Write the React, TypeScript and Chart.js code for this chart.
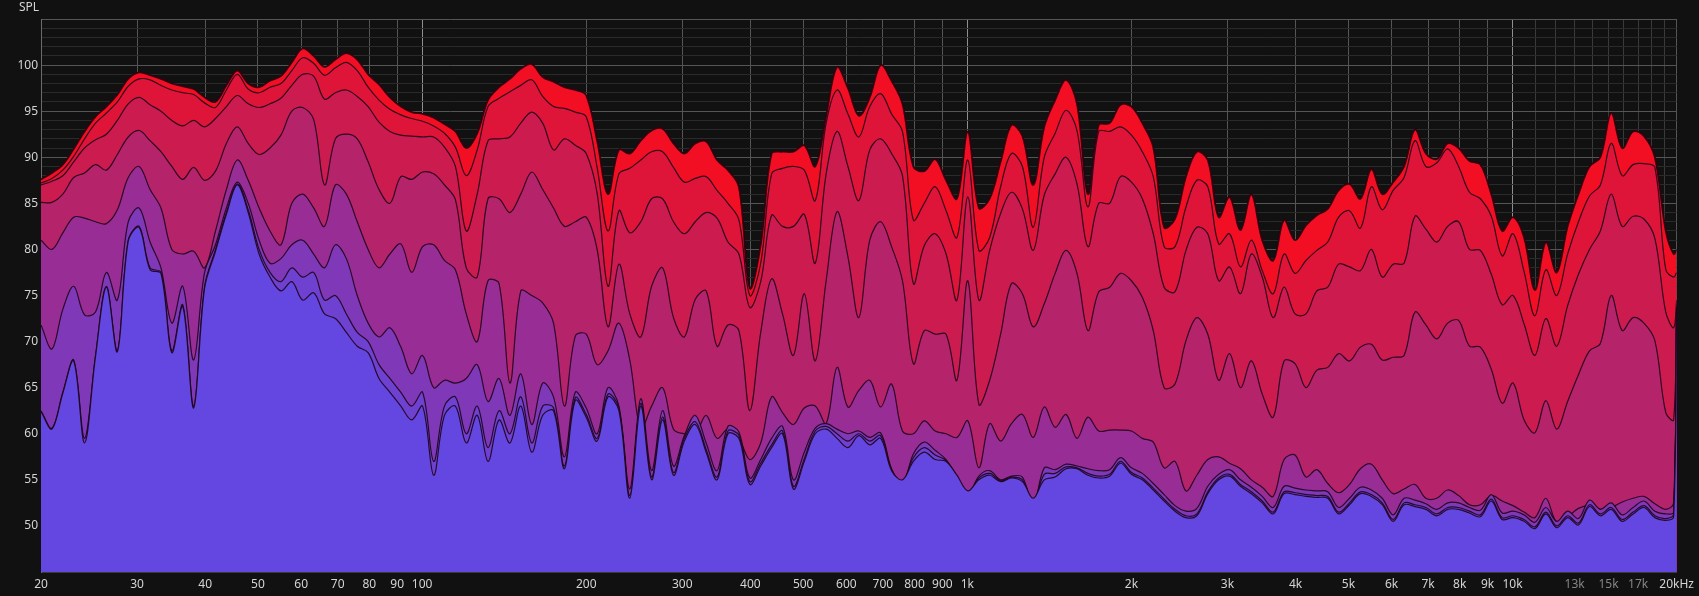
import { useEffect, useRef } from 'react';
import { Chart, registerables } from 'chart.js';

Chart.register(...registerables);

// Frequency axis samples (Hz)
const frequencies = [
  20, 20.94, 21.93, 22.96, 24.04, 25.18, 26.36, 27.61, 28.91, 30.27,
  31.7, 33.19, 34.75, 36.39, 38.11, 39.91, 41.79, 43.76, 45.82, 47.98,
  50.24, 52.61, 55.09, 57.68, 60.4, 63.25, 66.23, 69.35, 72.62, 76.04,
  79.62, 83.37, 87.3, 91.42, 95.72, 100.2, 105, 109.9, 115.1, 120.5,
  126.2, 132.1, 138.4, 144.9, 151.7, 158.9, 166.4, 174.2, 182.4, 191,
  200, 209.4, 219.3, 229.6, 240.4, 251.8, 263.6, 276.1, 289.1, 302.7,
  317, 331.9, 347.5, 363.9, 381.1, 399.1, 417.9, 437.6, 458.2, 479.8,
  502.4, 526.1, 550.9, 576.8, 604, 632.5, 662.3, 693.5, 726.2, 760.4,
  796.2, 833.7, 873, 914.2, 957.2, 1002, 1050, 1099, 1151, 1205,
  1262, 1321, 1384, 1449, 1517, 1589, 1664, 1742, 1824, 1910,
  2000, 2094, 2193, 2296, 2404, 2518, 2636, 2761, 2891, 3027,
  3170, 3319, 3475, 3639, 3811, 3991, 4179, 4376, 4582, 4798,
  5024, 5261, 5509, 5768, 6040, 6325, 6623, 6935, 7262, 7604,
  7962, 8337, 8730, 9142, 9572, 10020, 10500, 10990, 11510, 12050,
  12620, 13210, 13840, 14490, 15170, 15890, 16640, 17420, 18240, 19100,
  19750, 20000,
];

// Waterfall slices, first (loudest, red) to last (blue)
const slice1 = [
  87.6, 88.3, 89.2, 90.9, 92.8, 94.4, 95.5, 96.8, 98.5, 99.2,
  98.9, 98.5, 98.0, 97.7, 97.4, 96.5, 96.0, 97.8, 99.4,
  98.0, 97.6, 98.3, 98.8, 100.3, 101.8, 101.0, 99.8, 100.6, 101.3, 100.6, 99.0, 97.9, 96.5, 95.5, 94.9, 94.7, 94.3, 93.6,
  92.8, 91.0, 92.6, 96.2, 97.6, 98.5, 99.6, 100.1, 98.7, 98.2, 97.6, 97.3, 96.7, 91.8, 86.0, 90.8, 90.4, 91.8, 92.9, 93.1, 91.5, 90.4, 91.5, 91.7, 89.7, 88.6, 86.8, 75.8, 80.5, 90.4, 90.6, 90.6,
  91.3, 89.0, 94.5, 99.8, 97.5, 94.5, 96.5, 100.0, 98.3, 95.8, 89.0, 88.5, 89.8, 87.5, 85.5, 92.8, 84.5, 85.5, 89.5, 93.5, 92.3, 87.0, 93.3, 96.2, 98.4, 95.8,
  86.0, 93.5, 93.7, 95.7, 95.5, 93.7, 91.1, 82.4, 83.3, 87.9, 90.6, 89.7, 83.5, 85.7, 82.1, 86.0, 81.0, 78.8, 83.2, 81.0, 82.6, 83.7, 84.4, 86.4, 87.1, 85.5, 88.7,
  86.0, 87.3, 89.0, 93.0, 90.4, 89.8, 91.5, 91.0, 89.6, 89.2, 86.0, 82.0, 83.5, 81.3, 75.6,
  80.8, 77.5, 82.5, 86.0, 89.0, 90.0, 94.8, 91.0, 92.8, 92.3, 90.0, 82.0,
  79.5, 80.0,
];
const slice2 = [
  87.2, 87.7, 88.6, 90.1, 92.0, 93.7, 94.8, 96.0, 97.7, 98.5,
  98.4, 97.8, 97.3, 97.0, 96.8, 95.9, 95.4, 97.3, 99.0,
  97.4, 97.0, 97.6, 98.0, 99.4, 100.8, 100.2, 98.9, 99.7, 100.3, 99.4, 97.6, 96.2, 95.2, 94.6, 94.2, 93.9, 93.4, 92.6,
  91.1, 88.0, 90.8, 95.5, 96.4, 97.1, 97.8, 98.4, 96.6, 95.5, 95.3, 94.9, 94.4, 88.9, 82.0, 88.2, 88.8, 89.7, 90.6, 90.6, 88.9, 87.3, 87.7, 87.9, 86.4, 85.0, 83.2, 75.0, 78.5, 88.2, 88.8, 89.0,
  88.6, 85.3, 93.7, 97.3, 94.7, 92.2, 95.5, 96.9, 94.7, 92.8, 83.2, 85.0, 86.8, 84.2, 81.3, 89.7, 79.9, 81.3, 86.8, 90.4, 89.0, 82.4, 90.0, 92.6, 95.1, 92.9,
  84.6, 92.8, 92.8, 93.3, 92.4, 90.6, 87.9, 80.3, 80.3, 84.6, 87.5, 86.8, 80.6, 81.7, 78.1, 81.0, 77.7, 75.2, 79.5, 77.4, 78.8, 79.9, 80.8, 83.5, 84.2, 82.3, 86.8,
  84.3, 86.4, 87.8, 91.8, 89.0, 89.4, 90.9, 89.0, 86.2, 85.5, 83.6, 79.3, 81.7, 77.6, 72.8,
  77.8, 75.0, 79.5, 83.0, 85.8, 87.0, 91.5, 88.0, 89.2, 89.3, 88.9, 77.8,
  77.0, 77.5,
];
const slice3 = [
  87.0, 87.4, 88.0, 89.5, 91.0, 91.9, 92.5, 94.0, 95.8, 96.5,
  95.7, 95.0, 94.0, 93.4, 94.0, 93.3, 94.2, 95.5, 96.7,
  95.8, 95.4, 95.8, 96.4, 97.8, 99.0, 98.8, 96.3, 97.0, 97.3, 96.6, 95.5, 93.8, 92.8, 92.4, 92.3, 92.2, 92.2, 91.1,
  89.0, 82.0, 86.0, 91.8, 92.0, 92.2, 93.7, 94.9, 93.7, 90.8, 92.0, 91.3, 90.4, 86.1, 76.0, 84.2, 81.8, 83.0, 85.5, 85.5, 83.0, 81.7, 83.0, 84.0, 83.4, 80.8, 79.5, 73.7, 76.5, 83.7, 82.5, 82.5,
  83.8, 78.5, 88.2, 92.8, 89.0, 85.3, 90.8, 92.0, 90.4, 88.0, 76.3, 80.4, 81.7, 79.5, 74.5, 85.7, 74.5, 79.9, 83.9, 86.2, 84.4, 79.9, 85.9, 88.2, 90.0, 87.1,
  80.3, 85.0, 85.0, 87.9, 87.3, 85.5, 81.7, 75.9, 75.4, 79.9, 82.4, 81.7, 76.6, 78.1, 75.2, 79.5, 77.0, 72.6, 75.9, 73.0, 73.0, 75.5, 75.9, 78.4, 78.1, 77.7, 80.0,
  77.0, 78.4, 78.5, 83.6, 82.2, 80.8, 82.5, 83.0, 80.0, 79.9, 77.3, 74.0, 75.0, 71.9, 68.5,
  72.5, 69.5, 73.9, 77.3, 80.0, 82.0, 86.0, 82.5, 83.6, 83.3, 81.2, 73.2,
  71.5, 74.5,
];
const slice4 = [
  85.1, 85.1, 86.0, 87.8, 88.3, 89.2, 88.6, 90.3, 92.2, 92.9,
  91.8, 90.6, 89.0, 87.6, 88.9, 87.5, 88.5, 91.5, 93.3,
  91.5, 90.3, 91.0, 92.4, 95.0, 95.4, 94.1, 87.0, 92.0, 92.5, 92.0, 89.5, 86.5, 85.0, 87.9, 87.6, 88.4, 88.2, 87.0,
  85.4, 78.0, 77.0, 85.5, 85.5, 84.0, 86.0, 88.4, 86.5, 84.5, 82.5, 83.0, 83.5, 80.0, 71.6, 78.4, 73.0, 70.5, 76.0, 78.0, 72.6, 70.5, 74.6, 75.5, 69.5, 71.8, 71.2, 62.5, 71.0, 76.8, 73.0, 68.5,
  75.2, 67.9, 76.6, 84.1, 79.2, 72.6, 81.0, 83.0, 80.3, 76.6, 67.6, 71.2, 70.8, 70.8, 65.8, 76.6, 63.2, 65.8, 70.8, 76.3, 75.2, 71.6, 74.1, 77.4, 79.9, 77.4,
  71.2, 75.4, 75.9, 77.4, 76.6, 74.8, 71.2, 65.0, 65.4, 70.1, 72.6, 70.8, 65.8, 68.7, 65.0, 67.9, 64.3, 61.8, 67.9, 67.6, 65.0, 66.9, 67.2, 68.7, 67.9, 69.4, 69.7,
  68.0, 68.3, 68.5, 73.2, 71.8, 70.3, 72.0, 72.3, 69.5, 69.4, 67.0, 63.3, 65.5, 61.5, 60.1,
  63.6, 60.5, 63.5, 66.4, 69.0, 69.8, 75.0, 71.2, 72.6, 72.0, 70.1, 62.3,
  61.5, 74.0,
];
const slice5 = [
  81.0, 80.0, 81.8, 83.5, 83.4, 83.0, 82.8, 84.3, 87.8, 89.0,
  86.5, 84.5, 80.0, 79.5, 79.8, 78.0, 82.0, 86.5, 89.7,
  87.5, 84.5, 82.0, 80.5, 85.0, 86.0, 84.5, 82.5, 87.0, 86.0, 83.0, 80.0, 78.0, 79.5, 80.6, 77.5, 80.3, 80.5, 78.8,
  77.8, 73.0, 70.0, 76.6, 76.3, 65.5, 75.5, 75.0, 74.2, 72.0, 63.0, 70.6, 70.8, 67.5, 69.0, 72.0, 68.0, 60.5, 63.0, 65.0, 60.5, 60.0, 60.0, 62.0, 59.5, 60.5, 59.5, 57.2, 59.0, 64.0, 62.3, 61.0,
  62.8, 63.0, 61.1, 67.2, 62.9, 64.7, 65.8, 62.9, 65.4, 60.3, 60.0, 61.4, 60.3, 60.0, 59.6, 61.4, 56.3, 61.1, 59.2, 61.1, 62.1, 59.6, 62.9, 60.7, 62.1, 59.5,
  61.8, 60.3, 60.4, 60.4, 60.3, 59.5, 59.1, 56.3, 57.0, 53.8, 55.5, 57.2, 57.5, 56.8, 56.2, 55.0, 54.2, 53.2, 57.2, 57.7, 55.3, 56.1, 54.6, 53.6, 54.5, 56.2, 56.7,
  55.0, 53.5, 54.0, 54.5, 53.0, 53.0, 53.9, 53.3, 52.3, 52.3, 53.3, 52.7, 52.2, 51.5, 50.9,
  53.0, 50.4, 51.0, 51.9, 52.2, 51.8, 52.0, 52.6, 53.0, 53.2, 52.4, 51.8,
  52.5, 73.8,
];
const slice6 = [
  71.8, 69.2, 73.5, 76.0, 72.9, 73.2, 77.5, 74.5, 83.0, 84.5,
  80.8, 78.0, 72.0, 76.0, 68.0, 77.5, 80.5, 84.5, 87.3,
  85.0, 81.0, 78.5, 79.0, 80.5, 81.0, 79.5, 78.0, 80.5, 79.0, 75.0, 72.0, 70.5, 71.5, 69.4, 66.5, 68.5, 65.0, 65.8,
  65.5, 66.0, 67.5, 63.5, 66.0, 62.0, 66.5, 61.0, 65.5, 64.0, 57.5, 64.5, 62.8, 60.0, 65.0, 63.0, 54.0, 63.8, 56.0, 62.5, 56.5, 59.8, 62.0, 59.0, 56.0, 60.8, 60.2, 55.2, 57.2, 59.5, 60.8, 55.0,
  58.0, 60.6, 61.1, 60.5, 60.0, 60.3, 59.6, 60.1, 56.2, 54.5, 57.8, 59.1, 58.2, 57.2, 55.3, 53.3, 55.4, 56.0, 55.0, 55.4, 55.3, 52.2, 56.3, 56.1, 56.7, 56.5,
  56.2, 56.0, 56.1, 57.4, 56.3, 55.7, 54.6, 53.4, 52.2, 51.6, 51.9, 54.3, 55.6, 56.1, 55.0, 54.2, 53.2, 52.0, 54.3, 54.1, 53.9, 53.8, 53.7, 52.0, 53.0, 54.2, 53.9,
  53.0, 51.2, 53.0, 52.8, 52.4, 51.8, 52.5, 52.5, 52.0, 51.7, 53.4, 51.4, 51.6, 51.2, 50.4,
  52.0, 50.5, 51.6, 50.8, 52.8, 51.8, 52.5, 51.2, 52.0, 52.7, 51.6, 51.3,
  51.5, 73.7,
];
const slice7 = [
  62.5, 60.6, 64.5, 68.0, 59.5, 68.5, 76.0, 69.0, 81.0, 82.5,
  78.0, 77.5, 69.0, 74.0, 63.0, 76.0, 80.0, 84.0, 87.1,
  84.3, 80.0, 77.5, 76.5, 78.0, 77.0, 77.5, 74.5, 75.0, 73.0, 71.0, 70.0, 67.5, 66.0, 64.5, 63.0, 64.5, 57.0, 63.0,
  64.0, 60.0, 63.0, 58.5, 62.5, 60.0, 64.0, 59.0, 63.0, 62.8, 56.5, 63.9, 62.1, 59.5, 64.3, 62.8, 53.3, 63.3, 55.3, 61.8, 55.8, 59.5, 61.3, 58.3, 55.3, 60.3, 59.8, 54.8, 56.8, 58.8, 60.3, 54.3,
  57.3, 60.3, 60.8, 60.0, 59.2, 60.0, 59.2, 59.8, 56.1, 54.8, 57.4, 58.5, 57.7, 57.1, 55.4, 53.5, 55.2, 55.7, 54.9, 55.3, 55.0, 52.6, 55.6, 55.7, 56.4, 56.3,
  55.7, 55.4, 55.6, 57.0, 55.8, 55.2, 54.1, 52.9, 51.8, 51.1, 51.3, 53.7, 55.2, 55.6, 54.5, 53.7, 52.7, 51.5, 53.7, 53.6, 53.4, 53.3, 53.2, 51.5, 52.5, 53.7, 53.4,
  52.5, 50.7, 52.5, 52.3, 52.0, 51.3, 52.0, 52.0, 51.6, 51.2, 52.9, 50.9, 51.1, 50.7, 49.9,
  51.5, 50.0, 51.1, 50.3, 52.3, 51.3, 52.0, 50.7, 51.5, 52.2, 51.1, 50.8,
  51.3, 73.6,
];
const slice8 = [
  62.4, 60.5, 64.4, 67.9, 59.0, 68.4, 75.9, 68.9, 80.9, 82.4,
  77.8, 77.4, 68.8, 73.8, 62.8, 75.8, 79.8, 83.8, 87.0,
  84.0, 79.5, 77.0, 75.5, 76.5, 74.5, 75.3, 73.0, 72.5, 71.0, 69.5, 68.8, 66.0, 64.5, 63.0, 61.5, 63.0, 55.5, 62.0,
  63.0, 59.0, 62.0, 57.0, 61.5, 59.0, 63.0, 58.0, 62.0, 62.5, 56.2, 63.6, 61.8, 59.2, 64.0, 62.5, 53.0, 63.0, 55.0, 61.5, 55.5, 59.2, 61.0, 58.0, 55.0, 60.0, 59.5, 54.5, 56.5, 58.5, 60.0, 54.0,
  57.0, 60.0, 60.5, 59.5, 58.5, 59.8, 58.8, 59.5, 56.0, 55.0, 57.0, 58.0, 57.2, 57.0, 55.5, 53.8, 55.0, 55.5, 54.8, 55.2, 54.8, 53.0, 55.0, 55.3, 56.2, 56.2,
  55.5, 55.2, 55.4, 56.8, 55.6, 55.0, 53.9, 52.7, 51.6, 50.9, 51.1, 53.5, 55.0, 55.4, 54.3, 53.5, 52.5, 51.3, 53.5, 53.4, 53.2, 53.1, 53.0, 51.3, 52.3, 53.5, 53.2,
  52.3, 50.5, 52.3, 52.1, 51.8, 51.1, 51.8, 51.8, 51.4, 51.0, 52.7, 50.7, 50.9, 50.5, 49.7,
  51.3, 49.8, 50.9, 50.1, 52.1, 51.1, 51.8, 50.5, 51.3, 52.0, 50.9, 50.6,
  51.0, 73.5,
];

const sliceFills = ['#f20f24', '#de1539', '#cc1b4f', '#b5236b', '#982e95', '#7f39b8', '#6e41d0', '#6347e0'];

const xTickValues = [
  20, 30, 40, 50, 60, 70, 80, 90, 100, 200, 300, 400, 500, 600, 700, 800, 900, 1000,
  2000, 3000, 4000, 5000, 6000, 7000, 8000, 9000, 10000,
  11000, 12000, 13000, 14000, 15000, 16000, 17000, 18000, 19000, 20000,
];
const xTickLabels = [
  '20', '30', '40', '50', '60', '70', '80', '90', '100', '200', '300', '400', '500', '600', '700', '800', '900', '1k',
  '2k', '3k', '4k', '5k', '6k', '7k', '8k', '9k', '10k',
  '', '', '13k', '', '15k', '', '17k', '', '', '20kHz',
];
const dimXLabels = ['13k', '15k', '17k'];
const decadeLines = [100, 1000, 10000];
const fineXLines = [11000, 12000, 13000, 14000, 15000, 16000, 17000, 18000, 19000];
const yTickLabels = [50, 55, 60, 65, 70, 75, 80, 85, 90, 95, 100];

const FONT = '"Noto Sans", "Open Sans", sans-serif';

export default function App() {
  const ref = useRef<HTMLCanvasElement>(null);

  useEffect(() => {
    document.body.style.margin = '0';
    document.body.style.background = '#111111';
    const canvas = ref.current;
    if (!canvas) return;
    const slices = [slice1, slice2, slice3, slice4, slice5, slice6, slice7, slice8];

    const splTitle = {
      id: 'splTitle',
      afterDraw(chart: any) {
        const c = chart.ctx;
        c.save();
        c.font = `12px ${FONT}`;
        c.fillStyle = '#d4d4d4';
        c.textBaseline = 'top';
        c.textAlign = 'left';
        c.fillText('SPL', 19, 2);
        c.restore();
      },
    };

    const chart = new Chart(canvas, {
      type: 'line',
      data: {
        datasets: slices.map((s, i) => ({
          label: `slice ${i + 1}`,
          data: frequencies.map((f, j) => ({ x: f, y: s[j] })),
          borderColor: i === 0 ? 'rgba(50,0,14,0.95)' : 'rgba(30,4,28,0.9)',
          borderWidth: i === 0 ? 1.8 : 1.2,
          backgroundColor: sliceFills[i],
          fill: 'start',
          pointRadius: 0,
          tension: 0.35,
          order: slices.length - i,
        })),
      },
      options: {
        animation: false,
        responsive: false,
        maintainAspectRatio: false,
        devicePixelRatio: 1,
        layout: { padding: { top: 19, right: 20, left: 0, bottom: 0 } },
        plugins: { legend: { display: false }, tooltip: { enabled: false } },
        scales: {
          x: {
            type: 'logarithmic',
            min: 20,
            max: 20000,
            afterBuildTicks: (scale: any) => {
              scale.ticks = xTickValues.map((v) => ({ value: v }));
            },
            afterFit: (scale: any) => {
              scale.height = 24;
            },
            ticks: {
              autoSkip: false,
              maxRotation: 0,
              minRotation: 0,
              padding: 5,
              font: { family: FONT, size: 12 },
              color: (ctx: any) => {
                const idx = xTickValues.indexOf(ctx.tick?.value);
                return idx >= 0 && dimXLabels.includes(xTickLabels[idx]) ? '#858585' : '#d4d4d4';
              },
              callback: (value: any) => {
                const idx = xTickValues.indexOf(Number(value));
                return idx >= 0 ? xTickLabels[idx] : '';
              },
            },
            grid: {
              drawTicks: false,
              color: (ctx: any) => {
                const v = ctx.tick?.value;
                if (decadeLines.includes(v)) return '#8f8f8f';
                if (fineXLines.includes(v)) return '#3a3a3a';
                return '#555555';
              },
            },
            border: { display: true, color: '#3a3a3a' },
          },
          y: {
            type: 'linear',
            min: 45,
            max: 105,
            afterFit: (scale: any) => {
              scale.width = 41;
            },
            ticks: {
              stepSize: 1,
              autoSkip: false,
              padding: 3,
              font: { family: FONT, size: 12 },
              color: '#d4d4d4',
              callback: (value: any) => (yTickLabels.includes(Number(value)) ? String(value) : ''),
            },
            grid: {
              drawTicks: false,
              color: (ctx: any) => (Number(ctx.tick?.value) % 5 === 0 ? '#555555' : '#2a2a2a'),
            },
            border: { display: true, color: '#6a6a6a' },
          },
        },
      },
      plugins: [splTitle],
    } as any);

    return () => chart.destroy();
  }, []);

  return (
    <div style={{ position: 'absolute', left: 0, top: 0, width: 1699, height: 596, background: '#111111' }}>
      <canvas ref={ref} width={1699} height={596} style={{ display: 'block' }} />
    </div>
  );
}
